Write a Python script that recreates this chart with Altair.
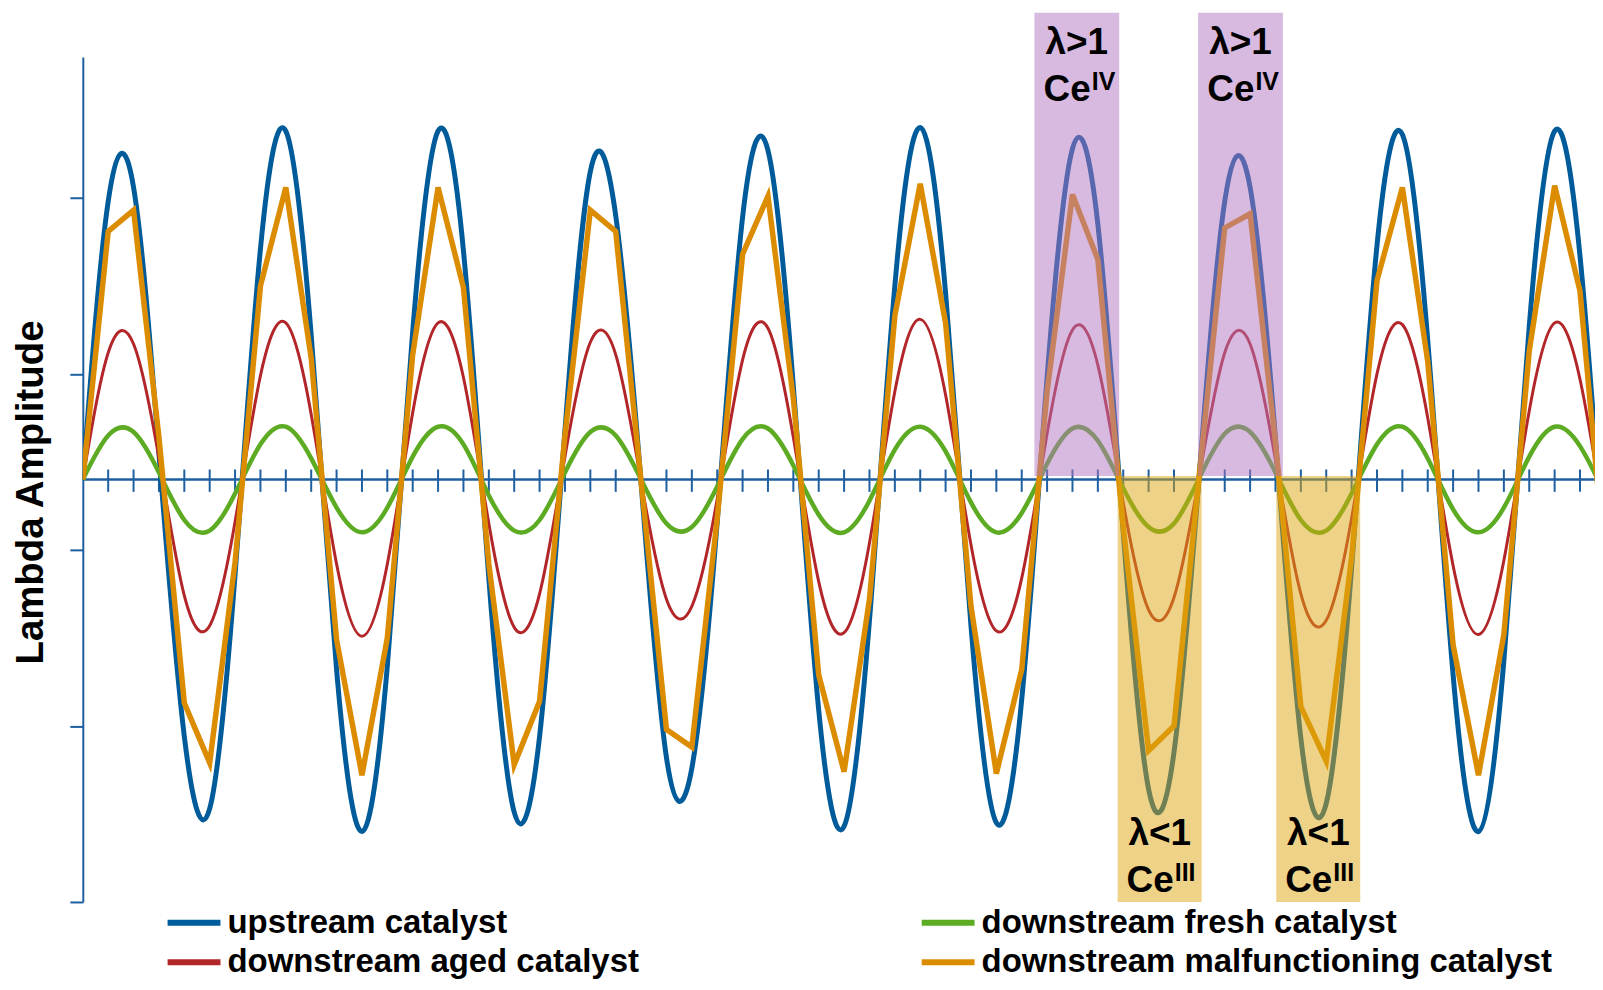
import altair as alt
import pandas as pd

# ---------------- data ----------------
ticks = list(range(61))

upstream = [0.00, 1.58, 1.66, 0.15, -1.46, -1.87, -0.54, 1.31, 1.98, 0.82,
            -1.08, -2.00, -1.06, 0.84, 1.98, 1.30, -0.56, -1.89, -1.46, 0.28,
            1.75, 1.50, -0.02, -1.58, -1.64, -0.24, 1.49, 1.87, 0.53, -1.31,
            -1.97, -0.80, 1.10, 2.00, 1.06, -0.83, -1.95, -1.25, 0.58, 1.88,
            1.45, -0.30, -1.76, -1.55, 0.03, 1.58, 1.66, 0.23, -1.47, -1.84,
            -0.50, 1.33, 1.96, 0.79, -1.11, -2.00, -1.03, 0.87, 1.98, 1.27, -0.59]

aged = [0.00, 0.72, 0.77, 0.12, -0.66, -0.83, -0.24, 0.59, 0.89, 0.37,
        -0.48, -0.89, -0.48, 0.38, 0.89, 0.58, -0.25, -0.84, -0.65, 0.13,
        0.78, 0.71, -0.01, -0.68, -0.72, -0.11, 0.68, 0.86, 0.24, -0.58,
        -0.87, -0.36, 0.50, 0.91, 0.48, -0.37, -0.86, -0.56, 0.26, 0.85,
        0.65, -0.13, -0.74, -0.67, 0.02, 0.72, 0.77, 0.11, -0.65, -0.80,
        -0.22, 0.60, 0.88, 0.35, -0.49, -0.88, -0.46, 0.39, 0.89, 0.57, -0.27]

fresh = [0.00, 0.25, 0.27, 0.04, -0.23, -0.29, -0.08, 0.20, 0.30, 0.12,
         -0.16, -0.30, -0.16, 0.13, 0.30, 0.20, -0.09, -0.29, -0.23, 0.04,
         0.27, 0.25, 0.00, -0.25, -0.27, -0.04, 0.23, 0.29, 0.08, -0.20,
         -0.30, -0.12, 0.17, 0.30, 0.16, -0.13, -0.30, -0.19, 0.09, 0.29,
         0.22, -0.05, -0.27, -0.25, 0.01, 0.26, 0.27, 0.04, -0.23, -0.29,
         -0.08, 0.20, 0.30, 0.12, -0.17, -0.30, -0.16, 0.13, 0.30, 0.19, -0.09]

malfunctioning = [0.00, 1.41, 1.53, 0.24, -1.27, -1.61, -0.47, 1.10, 1.66, 0.69,
                  -0.91, -1.68, -0.90, 0.71, 1.66, 1.09, -0.48, -1.62, -1.26, 0.25,
                  1.53, 1.41, -0.01, -1.42, -1.52, -0.22, 1.28, 1.61, 0.46, -1.11,
                  -1.66, -0.68, 0.93, 1.68, 0.89, -0.72, -1.67, -1.08, 0.50, 1.62,
                  1.25, -0.27, -1.54, -1.40, 0.03, 1.43, 1.51, 0.21, -1.29, -1.60,
                  -0.44, 1.13, 1.66, 0.67, -0.94, -1.68, -0.88, 0.73, 1.67, 1.07, -0.51]

series_names = ["upstream catalyst", "downstream aged catalyst",
                "downstream fresh catalyst", "downstream malfunctioning catalyst"]
series_colors = ["#005B9A", "#B2262A", "#5DAB22", "#DB8C00"]

axis_ticks = list(range(1, 60))
y_tick_values = [-2.4, -1.4, -0.4, 0.6, 1.6]

# shaded bands (in x-tick units)
lean_start = [37.50, 43.95]
lean_end = [40.84, 47.29]
rich_start = [40.78, 47.03]
rich_end = [44.09, 50.34]

lean_centers = [39.17, 45.62]
rich_centers = [42.44, 48.69]
lean_line1 = ["λ>1", "λ>1"]
rich_line1 = ["λ<1", "λ<1"]
lean_sup = ["IV", "IV"]
rich_sup = ["III", "III"]

# ---------------- chart ----------------
FONT = "Liberation Sans"
PLOT_W = 1516
X_MAX = PLOT_W / 25.44
Y_MIN, Y_MAX = -2.4, 2.4
AXIS_COLOR = "#1E5FA0"

xs = alt.Scale(domain=[0, X_MAX], nice=False, zero=False)
ys = alt.Scale(domain=[Y_MIN, Y_MAX], nice=False, zero=False)
cs = alt.Scale(domain=series_names, range=series_colors)

yaxis = alt.Axis(values=y_tick_values, labels=False, grid=False,
                 tickSize=13, tickWidth=2, tickColor=AXIS_COLOR,
                 domainColor=AXIS_COLOR, domainWidth=2,
                 title="Lambda Amplitude", titleFont=FONT, titleFontSize=38.5,
                 titleFontWeight="bold", titleColor="black",
                 titleAngle=270, titleAlign="center", titleBaseline="alphabetic",
                 titleX=-40, titleY=436)

legend = alt.Legend(title=None, orient="none", legendX=82, legendY=851,
                    columns=2, columnPadding=280, rowPadding=6, padding=0,
                    clipHeight=33, symbolType="stroke", symbolSize=2809,
                    symbolStrokeWidth=6, labelFont=FONT, labelFontSize=33,
                    labelFontWeight="bold", labelColor="black", labelOffset=4,
                    labelLimit=1000)


def X(field):
    return alt.X(field, type="quantitative", scale=xs, axis=None)


def Y(field):
    return alt.Y(field, type="quantitative", scale=ys, axis=yaxis)


def line_layer(name, vals, width, interp, **kw):
    df = pd.DataFrame({"t": ticks, "v": vals, "series": name})
    return alt.Chart(df).mark_line(strokeWidth=width, interpolate=interp,
                                   clip=True, **kw).encode(
        x=X("t"), y=Y("v"),
        color=alt.Color("series:N", scale=cs, legend=legend),
    )


x_axis_line = alt.Chart(pd.DataFrame({"a": [0.0], "b": [X_MAX], "y": [0.0]})).mark_rule(
    color=AXIS_COLOR, strokeWidth=2.5).encode(x=X("a"), x2="b", y=Y("y"))

tick_df = pd.DataFrame({"t": axis_ticks})
tick_df["lo"] = -0.07
tick_df["hi"] = 0.057
x_ticks = alt.Chart(tick_df).mark_rule(color=AXIS_COLOR, strokeWidth=2).encode(
    x=X("t"), y=Y("lo"), y2="hi")

blue = line_layer(series_names[0], upstream, 5, "natural")
red = line_layer(series_names[1], aged, 3, "natural")
green = line_layer(series_names[2], fresh, 4.5, "natural")
orange = line_layer(series_names[3], malfunctioning, 5.5, "linear",
                    strokeJoin="miter", strokeMiterLimit=4)

lean_df = pd.DataFrame({"a": lean_start, "b": lean_end})
lean_df["y0"] = 0.02
lean_df["y1"] = 2.652
lean_rect = alt.Chart(lean_df).mark_rect(color="#B175C1", opacity=0.5).encode(
    x=X("a"), x2="b", y=Y("y0"), y2="y1")

rich_df = pd.DataFrame({"a": rich_start, "b": rich_end})
rich_df["y0"] = Y_MIN
rich_df["y1"] = 0.02
rich_rect = alt.Chart(rich_df).mark_rect(color="#DDA50F", opacity=0.5).encode(
    x=X("a"), x2="b", y=Y("y0"), y2="y1")

lab = pd.DataFrame({
    "x": lean_centers + rich_centers,
    "y1": [2.418, 2.418, -2.074, -2.074],
    "y2": [2.153, 2.153, -2.342, -2.342],
    "l1": lean_line1 + rich_line1,
    "ce": ["Ce"] * 4,
    "sup": lean_sup + rich_sup,
})

txt_common = dict(font=FONT, fontWeight="bold", color="black")
txt1 = alt.Chart(lab).mark_text(fontSize=37, align="center", baseline="alphabetic",
                                **txt_common).encode(x=X("x"), y=Y("y1"), text="l1:N")
txt2 = alt.Chart(lab).mark_text(fontSize=37, align="right", baseline="alphabetic",
                                dx=14, **txt_common).encode(x=X("x"), y=Y("y2"), text="ce:N")
txt3 = alt.Chart(lab).mark_text(fontSize=25, align="left", baseline="alphabetic",
                                dx=15, dy=-11, **txt_common).encode(x=X("x"), y=Y("y2"), text="sup:N")

chart = alt.layer(
    x_axis_line, x_ticks, blue, red, green, orange, lean_rect, rich_rect, txt1, txt2, txt3
).properties(
    width=PLOT_W, height=847,
    padding={"left": 75, "top": 48, "right": 0, "bottom": 79},
    autosize=alt.AutoSizeParams(type="none"),
    background="white",
).configure(font=FONT).configure_view(stroke=None)

chart.save("out.html", embed_options={"renderer": "svg", "actions": False})
